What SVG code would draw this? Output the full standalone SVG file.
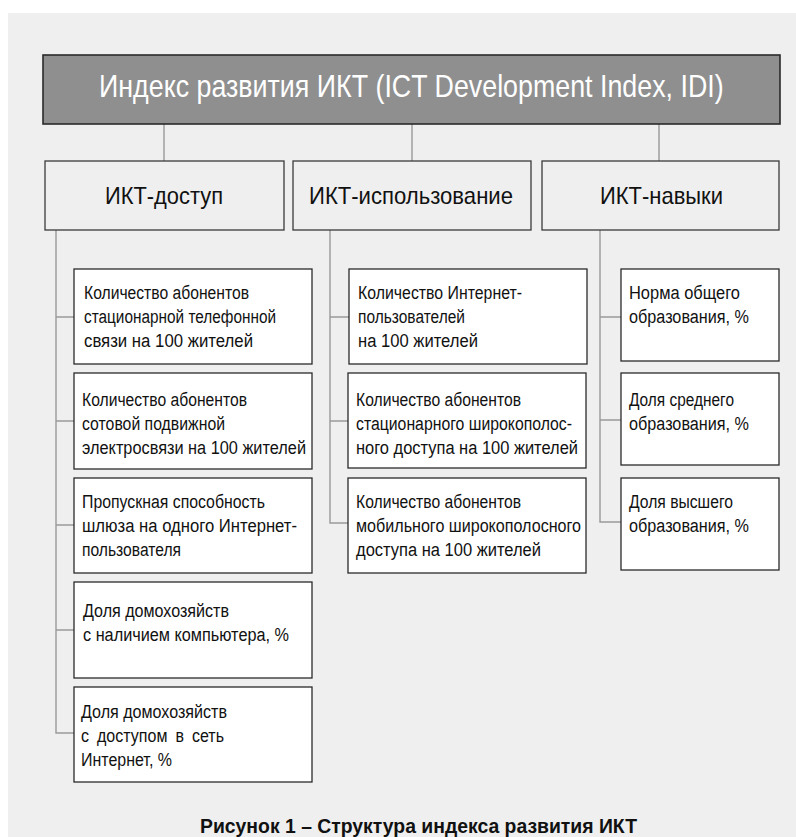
<svg xmlns="http://www.w3.org/2000/svg" width="796" height="837" viewBox="0 0 796 837">
<style>
.bg{fill:#efefef}
.title{fill:#8f8f8f;stroke:#2a2a2a;stroke-width:1.6}
.l2{fill:#efefef;stroke:#3a3a3a;stroke-width:1.3}
.leaf{fill:#ffffff;stroke:#2a2a2a;stroke-width:1.3}
.conn{fill:none;stroke:#9a9a9a;stroke-width:1.4}
text{font-family:"Liberation Sans",Arial,sans-serif;fill:#111}
.tt{font-size:32px;fill:#ffffff}
.t2{font-size:24px}
.t3{font-size:18px}
.cap{font-weight:bold;font-size:20px}
</style>
<rect class="bg" x="8" y="13" width="788" height="824"/>
<g id="connectors">
<path class="conn" d="M164 124V161M412 124V161M659 124V161"/>
<path class="conn" d="M56 230V733H74M56 317H74M56 421H74M56 525H74M56 630H74"/>
<path class="conn" d="M330 230V523H349M330 317H349M330 421H349"/>
<path class="conn" d="M600 230V522H621M600 317H621M600 420H621"/>
</g>
<g id="root">
<rect class="title" x="43" y="55" width="737" height="69"/>
<text class="tt" transform="translate(99 97) scale(0.838 1)" x="0" y="0">Индекс развития ИКТ (ICT Development Index, IDI)</text>
</g>
<g id="access">
<rect class="l2" x="45" y="161" width="239" height="69"/>
<text class="t2" x="105" y="204" textLength="118" lengthAdjust="spacingAndGlyphs">ИКТ-доступ</text>
</g>
<g id="use">
<rect class="l2" x="293" y="161" width="238" height="69"/>
<text class="t2" x="309" y="204" textLength="204" lengthAdjust="spacingAndGlyphs">ИКТ-использование</text>
</g>
<g id="skills">
<rect class="l2" x="542" y="161" width="237" height="69"/>
<text class="t2" x="600" y="204" textLength="123" lengthAdjust="spacingAndGlyphs">ИКТ-навыки</text>
</g>
<g id="a1">
<rect class="leaf" x="74" y="269" width="238" height="95"/>
<text class="t3" x="84" y="299" textLength="165" lengthAdjust="spacingAndGlyphs">Количество абонентов</text>
<text class="t3" x="84" y="323" textLength="192" lengthAdjust="spacingAndGlyphs">стационарной телефонной</text>
<text class="t3" x="84" y="347" textLength="169" lengthAdjust="spacingAndGlyphs">связи на 100 жителей</text>
</g>
<g id="a2">
<rect class="leaf" x="74" y="373" width="238" height="96"/>
<text class="t3" x="82" y="406" textLength="165" lengthAdjust="spacingAndGlyphs">Количество абонентов</text>
<text class="t3" x="82" y="430" textLength="143" lengthAdjust="spacingAndGlyphs">сотовой подвижной</text>
<text class="t3" x="82" y="454" textLength="224" lengthAdjust="spacingAndGlyphs">электросвязи на 100 жителей</text>
</g>
<g id="a3">
<rect class="leaf" x="74" y="478" width="238" height="95"/>
<text class="t3" x="82" y="508" textLength="183" lengthAdjust="spacingAndGlyphs">Пропускная способность</text>
<text class="t3" x="82" y="532" textLength="215" lengthAdjust="spacingAndGlyphs">шлюза на одного Интернет-</text>
<text class="t3" x="82" y="556" textLength="99" lengthAdjust="spacingAndGlyphs">пользователя</text>
</g>
<g id="a4">
<rect class="leaf" x="74" y="582" width="238" height="96"/>
<text class="t3" x="83" y="617" textLength="146" lengthAdjust="spacingAndGlyphs">Доля домохозяйств</text>
<text class="t3" x="83" y="641" textLength="206" lengthAdjust="spacingAndGlyphs">с наличием компьютера, %</text>
</g>
<g id="a5">
<rect class="leaf" x="74" y="687" width="238" height="95"/>
<text class="t3" x="81" y="718" textLength="146" lengthAdjust="spacingAndGlyphs">Доля домохозяйств</text>
<text class="t3" x="81" y="742" word-spacing="4" textLength="143" lengthAdjust="spacingAndGlyphs">с доступом в сеть</text>
<text class="t3" x="81" y="766" textLength="91" lengthAdjust="spacingAndGlyphs">Интернет, %</text>
</g>
<g id="u1">
<rect class="leaf" x="349" y="269" width="238" height="95"/>
<text class="t3" x="358" y="299" textLength="164" lengthAdjust="spacingAndGlyphs">Количество Интернет-</text>
<text class="t3" x="358" y="323" textLength="107" lengthAdjust="spacingAndGlyphs">пользователей</text>
<text class="t3" x="358" y="347" textLength="120" lengthAdjust="spacingAndGlyphs">на 100 жителей</text>
</g>
<g id="u2">
<rect class="leaf" x="348" y="373" width="238" height="95"/>
<text class="t3" x="356" y="406" textLength="165" lengthAdjust="spacingAndGlyphs">Количество абонентов</text>
<text class="t3" x="356" y="430" textLength="216" lengthAdjust="spacingAndGlyphs">стационарного широкополос-</text>
<text class="t3" x="356" y="454" textLength="222" lengthAdjust="spacingAndGlyphs">ного доступа на 100 жителей</text>
</g>
<g id="u3">
<rect class="leaf" x="348" y="478" width="238" height="95"/>
<text class="t3" x="356" y="508" textLength="165" lengthAdjust="spacingAndGlyphs">Количество абонентов</text>
<text class="t3" x="356" y="532" textLength="225" lengthAdjust="spacingAndGlyphs">мобильного широкополосного</text>
<text class="t3" x="356" y="556" textLength="185" lengthAdjust="spacingAndGlyphs">доступа на 100 жителей</text>
</g>
<g id="s1">
<rect class="leaf" x="621" y="269" width="158" height="92"/>
<text class="t3" x="629" y="299" textLength="111" lengthAdjust="spacingAndGlyphs">Норма общего</text>
<text class="t3" x="629" y="323" textLength="120" lengthAdjust="spacingAndGlyphs">образования, %</text>
</g>
<g id="s2">
<rect class="leaf" x="621" y="373" width="158" height="92"/>
<text class="t3" x="629" y="406" textLength="105" lengthAdjust="spacingAndGlyphs">Доля среднего</text>
<text class="t3" x="629" y="430" textLength="120" lengthAdjust="spacingAndGlyphs">образования, %</text>
</g>
<g id="s3">
<rect class="leaf" x="621" y="478" width="158" height="92"/>
<text class="t3" x="629" y="508" textLength="104" lengthAdjust="spacingAndGlyphs">Доля высшего</text>
<text class="t3" x="629" y="532" textLength="120" lengthAdjust="spacingAndGlyphs">образования, %</text>
</g>
<text class="cap" x="200" y="833" textLength="437" lengthAdjust="spacingAndGlyphs">Рисунок 1 – Структура индекса развития ИКТ</text>
</svg>
